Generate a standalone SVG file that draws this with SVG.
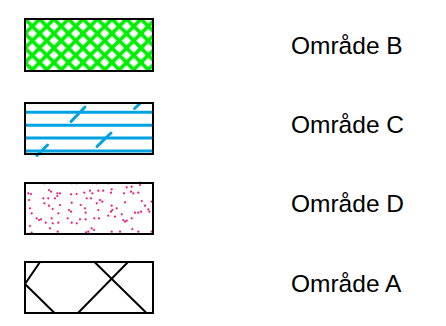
<svg xmlns="http://www.w3.org/2000/svg" width="446" height="326" viewBox="0 0 446 326">
<style>
  .frame { fill: none; stroke: #000; stroke-width: 2; }
  .label { font-family: "Liberation Sans", Arial, sans-serif; font-size: 24.5px; fill: #000; }
  .green { stroke: #00ee00; stroke-width: 3.6; fill: none; }
  .blue { stroke: #00a2e2; stroke-width: 3; fill: none; }
  .dash { stroke: #00a2e2; stroke-width: 3; stroke-linecap: round; fill: none; }
  .dot { fill: #f01478; }
  .xline { stroke: #000; stroke-width: 2; fill: none; }
</style>
<defs>
  <pattern id="hatchB" patternUnits="userSpaceOnUse" x="25" y="19" width="14.5" height="14.5">
    <path class="green" d="M-2 -2 L16.5 16.5 M16.5 -2 L-2 16.5 M-9.25 5.25 L5.25 19.75 M9.25 -5.25 L23.75 9.25 M5.25 -5.25 L-9.25 9.25 M23.75 5.25 L9.25 19.75"/>
  </pattern>
  <clipPath id="clipA"><rect x="25" y="262" width="128" height="51"/></clipPath>
</defs>
<rect width="446" height="326" fill="#fff"/>
<g id="legend-b">
  <rect x="25" y="19" width="128" height="52" fill="#fff"/>
  <rect x="25" y="19" width="128" height="52" fill="url(#hatchB)"/>
  <rect class="frame" x="25" y="19" width="128" height="52"/>
  <text class="label" x="291" y="53.5">Område B</text>
</g>
<g id="legend-c">
  <rect x="25" y="103" width="128" height="51" fill="#fff"/>
  <path class="blue" d="M25 112.3 H153 M25 125.2 H153 M25 138 H153 M25 151 H153"/>
  <path class="dash" d="M71 121.5 L85 107 M97 146.5 L111 133 M134.5 108.5 L140 103.5 M37 155.5 L47.5 145"/>
  <rect class="frame" x="25" y="103" width="128" height="51"/>
  <text class="label" x="291" y="132.5">Område C</text>
</g>
<g id="legend-d">
  <rect x="25" y="183" width="128" height="51" fill="#fff"/>
  <g class="dot">
    <circle cx="44.3" cy="183.3" r="1.1"/><circle cx="71.7" cy="183.3" r="1.1"/><circle cx="76.7" cy="183.3" r="1.1"/><circle cx="96.7" cy="183.3" r="1.1"/><circle cx="108.3" cy="183.3" r="1.1"/><circle cx="140" cy="182.7" r="1.1"/><circle cx="140" cy="185" r="1.1"/>
    <circle cx="28.3" cy="193.3" r="1.1"/><circle cx="31" cy="194" r="1.1"/><circle cx="49" cy="190" r="1.1"/><circle cx="51" cy="191.7" r="1.1"/><circle cx="57.3" cy="193.3" r="1.1"/><circle cx="57.3" cy="196" r="1.1"/><circle cx="60" cy="193.3" r="1.1"/><circle cx="71" cy="194.3" r="1.1"/><circle cx="76.7" cy="194" r="1.1"/><circle cx="84.3" cy="192.7" r="1.1"/><circle cx="90" cy="190.7" r="1.1"/><circle cx="92.3" cy="193.3" r="1.1"/><circle cx="98.3" cy="190.7" r="1.1"/><circle cx="103.3" cy="190.7" r="1.1"/><circle cx="111.7" cy="189.3" r="1.1"/><circle cx="111" cy="192.7" r="1.1"/><circle cx="124" cy="193.3" r="1.1"/><circle cx="126.7" cy="187.3" r="1.1"/><circle cx="131.7" cy="186.7" r="1.1"/><circle cx="131" cy="191.7" r="1.1"/><circle cx="133.3" cy="193.3" r="1.1"/><circle cx="138.3" cy="192.7" r="1.1"/>
    <circle cx="29" cy="200" r="1.1"/><circle cx="43.3" cy="198.3" r="1.1"/><circle cx="48.3" cy="198.3" r="1.1"/><circle cx="55" cy="198.3" r="1.1"/><circle cx="86.7" cy="198.3" r="1.1"/><circle cx="100" cy="200" r="1.1"/><circle cx="102.3" cy="201.7" r="1.1"/><circle cx="91" cy="198.3" r="1.1"/>
    <circle cx="44.3" cy="203.3" r="1.1"/><circle cx="49" cy="205.7" r="1.1"/><circle cx="52.7" cy="209" r="1.1"/><circle cx="60" cy="205" r="1.1"/><circle cx="71.7" cy="202.7" r="1.1"/><circle cx="80.7" cy="205" r="1.1"/><circle cx="85" cy="208.3" r="1.1"/><circle cx="96.7" cy="203.3" r="1.1"/><circle cx="111.7" cy="205.7" r="1.1"/><circle cx="112.3" cy="210" r="1.1"/><circle cx="116.7" cy="208.3" r="1.1"/><circle cx="125" cy="202.3" r="1.1"/><circle cx="141.7" cy="201" r="1.1"/><circle cx="145" cy="205.7" r="1.1"/><circle cx="151.7" cy="201.7" r="1.1"/>
    <circle cx="30" cy="208.3" r="1.1"/><circle cx="31.7" cy="213.3" r="1.1"/><circle cx="58.3" cy="213.3" r="1.1"/><circle cx="69" cy="210" r="1.1"/><circle cx="71" cy="211.7" r="1.1"/><circle cx="85.7" cy="212.7" r="1.1"/><circle cx="98.3" cy="210" r="1.1"/><circle cx="108.3" cy="215.7" r="1.1"/><circle cx="111" cy="211.7" r="1.1"/><circle cx="121.7" cy="214.3" r="1.1"/><circle cx="135" cy="212.7" r="1.1"/><circle cx="138.3" cy="212.7" r="1.1"/><circle cx="141" cy="211.7" r="1.1"/><circle cx="148.3" cy="209.3" r="1.1"/><circle cx="149.3" cy="211.7" r="1.1"/>
    <circle cx="36.7" cy="218.3" r="1.1"/><circle cx="39" cy="220" r="1.1"/><circle cx="41" cy="219.3" r="1.1"/><circle cx="45.7" cy="222.7" r="1.1"/><circle cx="51.7" cy="218.3" r="1.1"/><circle cx="67.7" cy="218.3" r="1.1"/><circle cx="71.7" cy="222.7" r="1.1"/><circle cx="80" cy="219.3" r="1.1"/><circle cx="85.7" cy="219.3" r="1.1"/><circle cx="94.3" cy="218.3" r="1.1"/><circle cx="99" cy="218.3" r="1.1"/><circle cx="115" cy="216.7" r="1.1"/><circle cx="123.3" cy="220" r="1.1"/><circle cx="125" cy="221.7" r="1.1"/><circle cx="126.7" cy="220.7" r="1.1"/><circle cx="131.7" cy="218.3" r="1.1"/>
    <circle cx="30" cy="226" r="1.1"/><circle cx="50" cy="228.3" r="1.1"/><circle cx="52.7" cy="223.3" r="1.1"/><circle cx="58.3" cy="222.7" r="1.1"/><circle cx="76.7" cy="223.3" r="1.1"/><circle cx="91.7" cy="228.3" r="1.1"/><circle cx="94" cy="230" r="1.1"/><circle cx="111.7" cy="231.7" r="1.1"/><circle cx="120" cy="231.7" r="1.1"/><circle cx="132.3" cy="229" r="1.1"/><circle cx="138.3" cy="231.7" r="1.1"/><circle cx="151.7" cy="231.7" r="1.1"/><circle cx="57.7" cy="231.7" r="1.1"/><circle cx="86" cy="232.3" r="1.1"/><circle cx="88.3" cy="231.7" r="1.1"/><circle cx="31.7" cy="232.7" r="1.1"/>
  </g>
  <rect class="frame" x="25" y="183" width="128" height="51"/>
  <text class="label" x="291" y="212">Område D</text>
</g>
<g id="legend-a">
  <rect x="25" y="262" width="128" height="51" fill="#fff"/>
  <g clip-path="url(#clipA)">
    <path class="xline" d="M40 262 L25 284 L54.5 313 M94.5 262 L146.5 313 M128 262 L78 313"/>
  </g>
  <rect class="frame" x="25" y="262" width="128" height="51"/>
  <text class="label" x="291" y="291.5">Område A</text>
</g>
<g id="connectors"/>
</svg>
